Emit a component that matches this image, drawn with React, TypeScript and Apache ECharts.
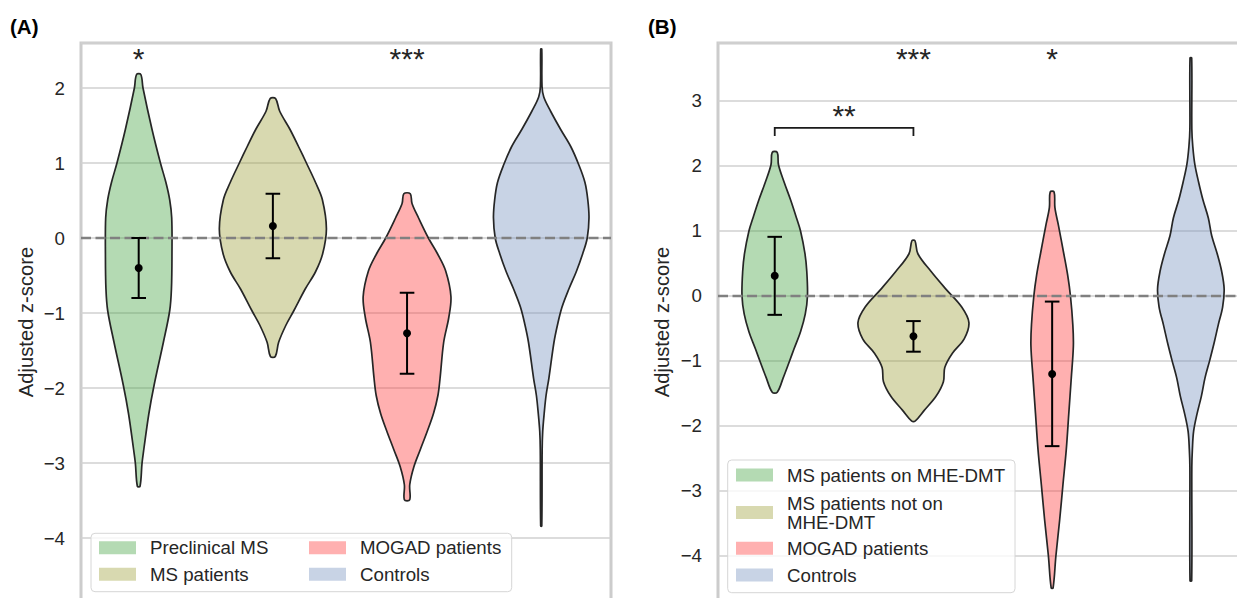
import React, { useEffect, useRef } from 'react';
import * as echarts from 'echarts';

const FONT = "'Liberation Sans', Arial, Helvetica, sans-serif";
const TEXT = '#262626';

// Groups (hue levels)
const groupsA = ['Preclinical MS', 'MS patients', 'MOGAD patients', 'Controls'];
const groupsB = ['MS patients on MHE-DMT', 'MS patients not on\nMHE-DMT', 'MOGAD patients', 'Controls'];
const fills = ['rgba(67,162,65,0.4)', 'rgba(157,160,57,0.4)', 'rgba(255,57,57,0.4)', 'rgba(117,145,190,0.4)'];

// Violin profiles: [adjusted z-score, half-width in x-axis units]
const violinA0 = [[2.18, 0.016], [2.0, 0.032], [1.45, 0.099], [1.0, 0.162], [0.74, 0.203], [0.51, 0.231], [0.27, 0.246], [-0.21, 0.248], [-0.68, 0.244], [-0.97, 0.231], [-1.39, 0.184], [-1.96, 0.115], [-2.34, 0.076], [-2.82, 0.038], [-3.0, 0.025], [-3.31, 0.01]];
const violinA1 = [[1.86, 0.02], [1.69, 0.051], [1.45, 0.127], [1.22, 0.191], [1.0, 0.25], [0.74, 0.318], [0.51, 0.369], [0.125, 0.399], [-0.21, 0.371], [-0.45, 0.318], [-0.68, 0.241], [-0.97, 0.156], [-1.16, 0.098], [-1.39, 0.043], [-1.58, 0.018]];
const violinA2 = [[0.59, 0.024], [0.46, 0.037], [0.27, 0.085], [0.0, 0.159], [-0.21, 0.227], [-0.44, 0.288], [-0.78, 0.327], [-1.06, 0.311], [-1.39, 0.273], [-1.87, 0.246], [-2.1, 0.23], [-2.34, 0.197], [-2.58, 0.15], [-2.82, 0.099], [-3.05, 0.051], [-3.29, 0.02], [-3.49, 0.02]];
const violinA3 = [[2.52, 0.004], [2.02, 0.006], [1.88, 0.019], [1.69, 0.07], [1.45, 0.144], [1.22, 0.22], [0.98, 0.279], [0.74, 0.326], [0.51, 0.347], [0.27, 0.356], [0.0, 0.343], [-0.21, 0.309], [-0.45, 0.261], [-0.68, 0.206], [-0.92, 0.155], [-1.16, 0.121], [-1.39, 0.095], [-1.87, 0.057], [-2.1, 0.036], [-2.34, 0.022], [-2.58, 0.011], [-2.82, 0.007], [-3.84, 0.004]];

const violinB0 = [[2.21, 0.018], [2.02, 0.027], [1.75, 0.068], [1.48, 0.114], [1.2, 0.157], [1.0, 0.186], [0.65, 0.218], [0.38, 0.231], [0.0, 0.236], [-0.28, 0.22], [-0.55, 0.186], [-0.82, 0.138], [-1.0, 0.107], [-1.26, 0.061], [-1.48, 0.018]];
const violinB1 = [[0.85, 0.011], [0.65, 0.032], [0.38, 0.126], [0.106, 0.234], [-0.17, 0.348], [-0.41, 0.4], [-0.66, 0.366], [-0.88, 0.281], [-1.1, 0.226], [-1.32, 0.216], [-1.54, 0.164], [-1.76, 0.078], [-1.92, 0.014]];
const violinB2 = [[1.6, 0.014], [1.36, 0.02], [1.09, 0.045], [0.65, 0.084], [0.32, 0.112], [0.0, 0.132], [-0.44, 0.149], [-0.77, 0.153], [-1.26, 0.138], [-1.81, 0.12], [-2.36, 0.102], [-2.9, 0.078], [-3.45, 0.054], [-4.0, 0.027], [-4.49, 0.007]];
const violinB3 = [[3.66, 0.006], [2.57, 0.007], [2.3, 0.014], [2.02, 0.029], [1.75, 0.056], [1.48, 0.087], [1.2, 0.126], [0.93, 0.15], [0.65, 0.19], [0.38, 0.222], [0.106, 0.24], [-0.17, 0.229], [-0.44, 0.198], [-0.72, 0.168], [-0.99, 0.136], [-1.26, 0.102], [-1.54, 0.076], [-1.81, 0.045], [-2.08, 0.02], [-2.36, 0.011], [-2.63, 0.007], [-4.38, 0.006]];

// Mean and 95% interval: [group index, mean, low, high]
const errA = [[0, -0.40, -0.80, 0.0], [1, 0.16, -0.27, 0.59], [2, -1.27, -1.81, -0.73]];
const errB = [[0, 0.31, -0.29, 0.91], [1, -0.62, -0.857, -0.386], [2, -1.20, -2.31, -0.086]];

// Significance annotations
const starsA = [[0, 2.387], [2, 2.387]];
const starsALabels = ['*', '***'];
const starsB = [[1, 3.646], [2, 3.646], [0.5, 2.782]];
const starsBLabels = ['***', '*', '**'];
const bracketB = [[0, 2.46], [0, 2.586], [1, 2.586], [1, 2.46]];

// Axes
const yRangeA = [-5, 2.6];
const yRangeB = [-5, 3.892];
const xRangeA = [-0.43, 3.52];
const xRangeB = [-0.409, 3.412];
const lowestTickLabel = -4;

const minusFmt = (v: number) =>
  Number.isInteger(v) && v >= lowestTickLabel ? (v < 0 ? '\u2212' + Math.abs(v) : String(v)) : '';

function violinSeries(profiles: number[][][], axis: number) {
  return {
    type: 'custom',
    xAxisIndex: axis,
    yAxisIndex: axis,
    z: 2,
    data: profiles.map((_, i) => [i, 0]),
    renderItem: (params: any, api: any) => {
      const i = params.dataIndex;
      const prof = profiles[i];
      const right = prof.map(([y, w]) => api.coord([i + w, y]));
      const left = prof.slice().reverse().map(([y, w]) => api.coord([i - w, y]));
      return {
        type: 'polygon',
        shape: { points: right.concat(left), smooth: 0.35 },
        style: { fill: fills[i], stroke: '#262626', lineWidth: 1.7 },
      };
    },
  };
}

function errSeries(data: number[][], axis: number) {
  return {
    type: 'custom',
    xAxisIndex: axis,
    yAxisIndex: axis,
    z: 4,
    data,
    renderItem: (params: any, api: any) => {
      const x = api.value(0);
      const top = api.coord([x, api.value(3)]);
      const bot = api.coord([x, api.value(2)]);
      const mid = api.coord([x, api.value(1)]);
      const cap = 7.3;
      const st = { stroke: '#000', lineWidth: 2 };
      return {
        type: 'group',
        children: [
          { type: 'line', shape: { x1: top[0], y1: top[1], x2: bot[0], y2: bot[1] }, style: st },
          { type: 'line', shape: { x1: top[0] - cap, y1: top[1], x2: top[0] + cap, y2: top[1] }, style: st },
          { type: 'line', shape: { x1: bot[0] - cap, y1: bot[1], x2: bot[0] + cap, y2: bot[1] }, style: st },
          { type: 'circle', shape: { cx: mid[0], cy: mid[1], r: 4 }, style: { fill: '#000' } },
        ],
      };
    },
  };
}

function starSeries(data: number[][], labels: string[], axis: number) {
  return {
    type: 'custom',
    xAxisIndex: axis,
    yAxisIndex: axis,
    z: 5,
    data,
    renderItem: (params: any, api: any) => {
      const p = api.coord([api.value(0), api.value(1)]);
      return {
        type: 'text',
        x: p[0],
        y: p[1],
        style: {
          text: labels[params.dataIndex],
          fontSize: 30,
          fontFamily: FONT,
          fill: TEXT,
          align: 'center',
          verticalAlign: 'middle',
        },
      };
    },
  };
}

function zeroLine(range: number[], axis: number) {
  return {
    type: 'line',
    xAxisIndex: axis,
    yAxisIndex: axis,
    z: 3,
    symbol: 'none',
    silent: true,
    data: [[range[0], 0], [range[1], 0]],
    lineStyle: { color: '#808080', width: 2.5, type: [10, 4.5] },
  };
}

function yAxis(range: number[], grid: number) {
  return {
    type: 'value',
    gridIndex: grid,
    min: range[0],
    max: range[1],
    interval: 1,
    axisLine: { show: false },
    axisTick: { show: false },
    axisLabel: { formatter: minusFmt, color: TEXT, fontSize: 18.7, fontFamily: FONT, margin: 16 },
    splitLine: { show: true, lineStyle: { color: '#d0d0d0', width: 1.5 } },
  };
}

function xAxis(range: number[], grid: number) {
  return {
    type: 'value',
    gridIndex: grid,
    min: range[0],
    max: range[1],
    axisLine: { show: false },
    axisTick: { show: false },
    axisLabel: { show: false },
    splitLine: { show: false },
  };
}

function legendGraphics(names: string[], box: number[], items: number[][], swatchX: number[], textX: number[]) {
  const els: any[] = [
    {
      type: 'rect',
      shape: { x: box[0], y: box[1], width: box[2], height: box[3], r: 4 },
      style: { fill: 'rgba(255,255,255,0.8)', stroke: '#d6d6d6', lineWidth: 1 },
      z: 10,
    },
  ];
  names.forEach((n, i) => {
    const [col, cy] = items[i];
    els.push({
      type: 'rect',
      shape: { x: swatchX[col], y: cy - 6.5, width: 37, height: 13 },
      style: { fill: fills[i] },
      z: 11,
    });
    els.push({
      type: 'text',
      x: textX[col],
      y: cy,
      style: { text: n, fontSize: 18.7, lineHeight: 19, fontFamily: FONT, fill: TEXT, align: 'left', verticalAlign: 'middle' },
      z: 11,
    });
  });
  return els;
}

export default function App() {
  const ref = useRef<HTMLDivElement>(null);
  useEffect(() => {
    if (!ref.current) return;
    const chart = echarts.init(ref.current, undefined, { renderer: 'svg' });
    const graphics: any[] = [
      { type: 'text', x: 10, y: 26, style: { text: '(A)', fontSize: 20.5, fontWeight: 'bold', fontFamily: FONT, fill: '#000', align: 'left', verticalAlign: 'middle' } },
      { type: 'text', x: 648, y: 26, style: { text: '(B)', fontSize: 20.5, fontWeight: 'bold', fontFamily: FONT, fill: '#000', align: 'left', verticalAlign: 'middle' } },
      { type: 'text', x: 26, y: 322, rotation: Math.PI / 2, style: { text: 'Adjusted z-score', fontSize: 20.2, fontFamily: FONT, fill: TEXT, align: 'center', verticalAlign: 'middle' } },
      { type: 'text', x: 662, y: 322, rotation: Math.PI / 2, style: { text: 'Adjusted z-score', fontSize: 20.2, fontFamily: FONT, fill: TEXT, align: 'center', verticalAlign: 'middle' } },
      ...legendGraphics(groupsA, [91, 533.3, 420.7, 58.4], [[0, 547.7], [0, 574.3], [1, 547.7], [1, 574.3]], [99, 309], [150, 360]),
      ...legendGraphics(groupsB, [727.7, 460, 287.3, 132.7], [[0, 475], [0, 512.5], [0, 548.3], [0, 575]], [736], [787]),
    ];
    chart.setOption({
      animation: false,
      grid: [
        { left: 81, top: 43, width: 530, height: 570, show: true, borderColor: '#cccccc', borderWidth: 3, containLabel: false, outerBoundsMode: 'none' },
        { left: 718, top: 43, width: 530, height: 578, show: true, borderColor: '#cccccc', borderWidth: 3, containLabel: false, outerBoundsMode: 'none' },
      ],
      xAxis: [xAxis(xRangeA, 0), xAxis(xRangeB, 1)],
      yAxis: [yAxis(yRangeA, 0), yAxis(yRangeB, 1)],
      series: [
        violinSeries([violinA0, violinA1, violinA2, violinA3], 0),
        violinSeries([violinB0, violinB1, violinB2, violinB3], 1),
        zeroLine(xRangeA, 0),
        zeroLine(xRangeB, 1),
        errSeries(errA, 0),
        errSeries(errB, 1),
        starSeries(starsA, starsALabels, 0),
        starSeries(starsB, starsBLabels, 1),
        {
          type: 'custom',
          xAxisIndex: 1,
          yAxisIndex: 1,
          z: 5,
          data: [[0, 0]],
          renderItem: (params: any, api: any) => ({
            type: 'polyline',
            shape: { points: bracketB.map((p) => api.coord(p)) },
            style: { stroke: '#1a1a1a', lineWidth: 1.8, fill: 'none' },
          }),
        },
      ],
      graphic: graphics,
    });
    return () => chart.dispose();
  }, []);
  return <div ref={ref} style={{ position: 'absolute', left: 0, top: 0, width: 1237, height: 598, background: '#fff' }} />;
}
